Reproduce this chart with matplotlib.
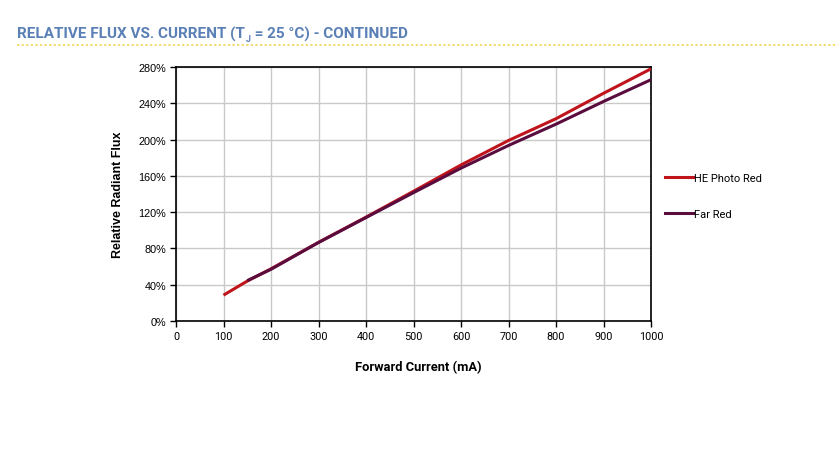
import matplotlib
matplotlib.use("Agg")
from matplotlib import pyplot as plt
from matplotlib.ticker import FuncFormatter
from matplotlib.lines import Line2D

# data
current_red = [100, 150, 200, 300, 400, 500, 600, 700, 800, 900, 1000]
flux_red = [28.5, 44, 57.5, 86.7, 114.5, 143, 172, 199, 223, 251, 278]
current_far = [150, 200, 300, 400, 500, 600, 700, 800, 900, 1000]
flux_far = [44.5, 57, 86.5, 114, 141.5, 168.5, 193.5, 217, 242, 266]

x_ticks = [0, 100, 200, 300, 400, 500, 600, 700, 800, 900, 1000]
y_ticks = [0, 40, 80, 120, 160, 200, 240, 280]

C_RED = '#c0141c'
C_FAR = '#5a0c3e'

W, H = 836, 464
fig = plt.figure(figsize=(W/100.0, H/100.0), dpi=100)
ax = fig.add_axes([176.0/W, 1-322.0/H, (651-176.0)/W, (322-68.0)/H])

ax.plot(current_red, flux_red, c=C_RED, lw=2.2, solid_capstyle='butt', zorder=3)
ax.plot(current_far, flux_far, c=C_FAR, lw=2.2, solid_capstyle='butt', zorder=3)

ax.set_xlim(0, 1000)
ax.set_ylim(0, 280)
ax.set_xticks(x_ticks)
ax.set_yticks(y_ticks)
ax.yaxis.set_major_formatter(FuncFormatter(lambda v, p: '%d%%' % v))
ax.grid(True, color='#c9c9c9', lw=1)
ax.set_axisbelow(True)
for s in ax.spines.values():
    s.set_linewidth(1.2)
    s.set_color('black')
ax.tick_params(direction='out', length=4, width=1, pad=3)
for t in ax.get_xticklabels():
    t.set_fontfamily('Roboto')
    t.set_fontsize(7.8)
for t in ax.get_yticklabels():
    t.set_fontfamily('Liberation Sans')
    t.set_fontsize(7.8)

fig.text(118.0/W, 1-195.0/H, 'Relative Radiant Flux', rotation=90, ha='center', va='center',
         fontsize=9, fontweight='bold', family='Liberation Sans')
fig.text(418.0/W, 1-368.0/H, 'Forward Current (mA)', ha='center', va='center',
         fontsize=9.3, fontweight='bold', family='Roboto')

# legend
handles = [Line2D([], [], c=C_RED, lw=2.2), Line2D([], [], c=C_FAR, lw=2.2)]
leg = fig.legend(handles, ['HE Photo Red', 'Far Red'], loc='upper left',
                 bbox_to_anchor=(655.0/W, 1-164.0/H), frameon=False,
                 handlelength=2.5, handletextpad=0.1, labelspacing=2.3,
                 prop={'family': 'Roboto', 'size': 8})

# title with subscript J
title_c = '#5a80b6'
fig.canvas.draw()
r = fig.canvas.get_renderer()
t1 = fig.text(17.0/W, 1-39.0/H, 'RELATIVE FLUX VS. CURRENT (T', fontsize=11, fontweight='bold',
              family='Roboto', color=title_c, va='baseline')
bb = t1.get_window_extent(r)
t2 = fig.text(bb.x1/W + 0.5/W, 1-42.0/H, 'J', fontsize=6.5, fontweight='bold',
              family='Roboto', color=title_c, va='baseline')
bb2 = t2.get_window_extent(r)
fig.text(bb2.x1/W + 1.0/W, 1-39.0/H, ' = 25 \u00b0C) - CONTINUED', fontsize=11, fontweight='bold',
         family='Roboto', color=title_c, va='baseline')

# dotted yellow rule under title
fig.add_artist(Line2D([17.0/W, 1.0], [1-46.0/H, 1-46.0/H], transform=fig.transFigure,
                      c='#f0d24a', lw=1.1, ls=(0, (1.5, 1.5))))

fig.savefig('out.png', dpi=100)
